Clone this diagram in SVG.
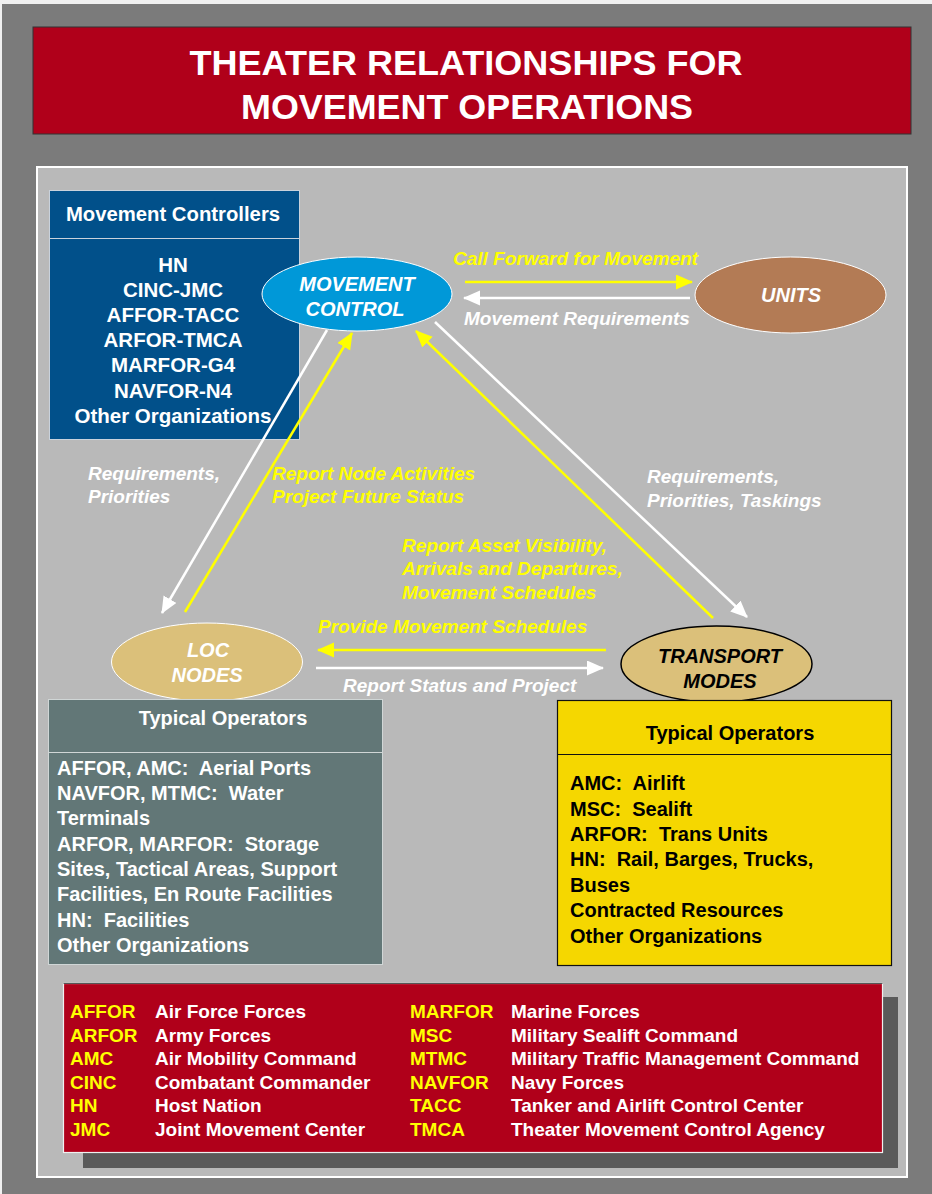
<svg xmlns="http://www.w3.org/2000/svg" width="932" height="1194" viewBox="0 0 932 1194">
  <style>
    .t { font-family: "Liberation Sans", Arial, sans-serif; font-weight: bold; white-space: pre; }
    .it { font-family: "Liberation Sans", Arial, sans-serif; font-weight: bold; font-style: italic; font-size: 19px; }
    .w { fill: #ffffff; }
    .y { fill: #ffff00; }
    .k { fill: #000000; }
    .mid { text-anchor: middle; }
    .lnW { stroke: #ffffff; stroke-width: 2.5; fill: none; marker-end: url(#headW); }
    .lnY { stroke: #ffff00; stroke-width: 2.5; fill: none; marker-end: url(#headY); }
  </style>
  <defs>
    <marker id="headW" markerUnits="userSpaceOnUse" markerWidth="18" markerHeight="16" refX="16" refY="7.5" orient="auto">
      <path d="M0,0 L17,7.5 L0,15 z" fill="#ffffff"/>
    </marker>
    <marker id="headY" markerUnits="userSpaceOnUse" markerWidth="18" markerHeight="16" refX="16" refY="7.5" orient="auto">
      <path d="M0,0 L17,7.5 L0,15 z" fill="#ffff00"/>
    </marker>
  </defs>

  <!-- page background -->
  <rect x="0" y="0" width="932" height="1194" fill="#f0f0f0"/>
  <rect x="2" y="4" width="930" height="1190" fill="#7b7b7b"/>

  <!-- title banner -->
  <g id="title">
    <rect x="33" y="27" width="878" height="107" fill="#b0001a" stroke="#333333" stroke-width="1"/>
    <text class="t w mid" x="466" y="75" font-size="35" textLength="553" lengthAdjust="spacingAndGlyphs">THEATER RELATIONSHIPS FOR</text>
    <text class="t w mid" x="467" y="119" font-size="35" textLength="452" lengthAdjust="spacingAndGlyphs">MOVEMENT OPERATIONS</text>
  </g>

  <!-- main panel -->
  <rect x="37" y="167" width="870" height="1010" fill="#b9b9b9" stroke="#ffffff" stroke-width="2"/>

  <!-- movement controllers list -->
  <g id="movement-controllers">
    <rect x="49.5" y="190.5" width="250" height="249" fill="#01508a" stroke="#c9d2dc" stroke-width="1"/>
    <line x1="49.5" y1="238.5" x2="299.5" y2="238.5" stroke="#c9d2dc" stroke-width="1"/>
    <text class="t w mid" x="173" y="221" font-size="20.3">Movement Controllers</text>
    <g class="t w mid" font-size="20.5">
      <text x="173" y="272">HN</text>
      <text x="173" y="297">CINC-JMC</text>
      <text x="173" y="322">AFFOR-TACC</text>
      <text x="173" y="347">ARFOR-TMCA</text>
      <text x="173" y="372">MARFOR-G4</text>
      <text x="173" y="398">NAVFOR-N4</text>
      <text x="173" y="423">Other Organizations</text>
    </g>
  </g>

  <!-- central node -->
  <g id="movement-control">
    <ellipse cx="357" cy="294" rx="95" ry="37" fill="#0098d8" stroke="#ffffff" stroke-width="1"/>
    <text class="t w mid" font-style="italic" x="357" y="291" font-size="20">MOVEMENT</text>
    <text class="t w mid" font-style="italic" x="355" y="316" font-size="20">CONTROL</text>
  </g>

  <g id="units">
    <ellipse cx="790.5" cy="295" rx="95.5" ry="38" fill="#b37b55" stroke="#ffffff" stroke-width="1"/>
    <text class="t w mid" font-style="italic" x="791" y="302" font-size="20">UNITS</text>
  </g>

  <g id="loc-nodes">
    <ellipse cx="207" cy="662" rx="95.5" ry="39" fill="#dbc07a" stroke="#ffffff" stroke-width="1"/>
    <text class="t w mid" font-style="italic" x="208" y="657" font-size="20">LOC</text>
    <text class="t w mid" font-style="italic" x="207" y="682" font-size="20">NODES</text>
  </g>

  <g id="transport-modes">
    <ellipse cx="716.5" cy="664" rx="95.5" ry="38" fill="#dbc07a" stroke="#000000" stroke-width="1.5"/>
    <text class="t k mid" font-style="italic" x="720" y="663" font-size="20">TRANSPORT</text>
    <text class="t k mid" font-style="italic" x="720" y="688" font-size="20">MODES</text>
  </g>

  <!-- operator tables -->
  <g id="loc-operators">
    <rect x="48.5" y="699.5" width="334" height="265" fill="#627777" stroke="#d0d6d6" stroke-width="1"/>
    <line x1="48.5" y1="752.5" x2="382.5" y2="752.5" stroke="#d0d6d6" stroke-width="1"/>
    <text class="t w mid" x="223" y="725" font-size="20">Typical Operators</text>
    <g class="t w" font-size="20">
      <text x="57" y="775" xml:space="preserve">AFFOR, AMC:  Aerial Ports</text>
      <text x="57" y="800" xml:space="preserve">NAVFOR, MTMC:  Water</text>
      <text x="57" y="825">Terminals</text>
      <text x="57" y="851" xml:space="preserve">ARFOR, MARFOR:  Storage</text>
      <text x="57" y="876">Sites, Tactical Areas, Support</text>
      <text x="57" y="901">Facilities, En Route Facilities</text>
      <text x="57" y="927" xml:space="preserve">HN:  Facilities</text>
      <text x="57" y="952">Other Organizations</text>
    </g>
  </g>

  <g id="transport-operators">
    <rect x="557.5" y="700.5" width="334" height="265" fill="#f5d700" stroke="#111111" stroke-width="1.2"/>
    <line x1="557.5" y1="754.5" x2="891.5" y2="754.5" stroke="#111111" stroke-width="1.2"/>
    <text class="t k mid" x="730" y="740" font-size="20">Typical Operators</text>
    <g class="t k" font-size="20">
      <text x="570" y="790" xml:space="preserve">AMC:  Airlift</text>
      <text x="570" y="816" xml:space="preserve">MSC:  Sealift</text>
      <text x="570" y="841" xml:space="preserve">ARFOR:  Trans Units</text>
      <text x="570" y="866" xml:space="preserve">HN:  Rail, Barges, Trucks,</text>
      <text x="570" y="892">Buses</text>
      <text x="570" y="917">Contracted Resources</text>
      <text x="570" y="943">Other Organizations</text>
    </g>
  </g>

  <!-- connectors and their labels -->
  <g id="connectors">
    <path class="lnY" d="M465,282 L692,282"/>
    <path class="lnW" d="M690,298 L464,298"/>
    <path class="lnY" d="M606,650 L318,650"/>
    <path class="lnW" d="M316,668 L603,668"/>
    <path class="lnW" d="M327,330 L162,613"/>
    <path class="lnY" d="M185,612 L352,333"/>
    <path class="lnY" d="M713,618 L416,331"/>
    <path class="lnW" d="M435,322 L747,617"/>

    <text class="it y" x="453" y="265">Call Forward for Movement</text>
    <text class="it w" x="464" y="325">Movement Requirements</text>
    <text class="it w" x="88" y="480">Requirements,</text>
    <text class="it w" x="88" y="503">Priorities</text>
    <text class="it y" x="272" y="480">Report Node Activities</text>
    <text class="it y" x="272" y="503">Project Future Status</text>
    <text class="it w" x="647" y="483">Requirements,</text>
    <text class="it w" x="647" y="507">Priorities, Taskings</text>
    <text class="it y" x="402" y="552">Report Asset Visibility,</text>
    <text class="it y" x="402" y="575">Arrivals and Departures,</text>
    <text class="it y" x="402" y="599">Movement Schedules</text>
    <text class="it y" x="318" y="633">Provide Movement Schedules</text>
    <text class="it w" x="343" y="692">Report Status and Project</text>
  </g>

  <!-- abbreviation legend -->
  <g id="legend">
    <rect x="83" y="997" width="815" height="171" fill="#5a5a5a"/>
    <rect x="63.5" y="983.5" width="819" height="169" fill="#b0001a" stroke="#f0f0f0" stroke-width="1.2"/>
    <line x1="63.5" y1="983.5" x2="882.5" y2="983.5" stroke="#555555" stroke-width="1.2"/>
    <g class="t y" font-size="19">
      <text x="70" y="1018">AFFOR</text>
      <text x="70" y="1042">ARFOR</text>
      <text x="70" y="1065">AMC</text>
      <text x="70" y="1089">CINC</text>
      <text x="70" y="1112">HN</text>
      <text x="70" y="1136">JMC</text>
      <text x="410" y="1018">MARFOR</text>
      <text x="410" y="1042">MSC</text>
      <text x="410" y="1065">MTMC</text>
      <text x="410" y="1089">NAVFOR</text>
      <text x="410" y="1112">TACC</text>
      <text x="410" y="1136">TMCA</text>
    </g>
    <g class="t w" font-size="19">
      <text x="155" y="1018">Air Force Forces</text>
      <text x="155" y="1042">Army Forces</text>
      <text x="155" y="1065">Air Mobility Command</text>
      <text x="155" y="1089">Combatant Commander</text>
      <text x="155" y="1112">Host Nation</text>
      <text x="155" y="1136">Joint Movement Center</text>
      <text x="511" y="1018">Marine Forces</text>
      <text x="511" y="1042">Military Sealift Command</text>
      <text x="511" y="1065">Military Traffic Management Command</text>
      <text x="511" y="1089">Navy Forces</text>
      <text x="511" y="1112">Tanker and Airlift Control Center</text>
      <text x="511" y="1136">Theater Movement Control Agency</text>
    </g>
  </g>
</svg>
